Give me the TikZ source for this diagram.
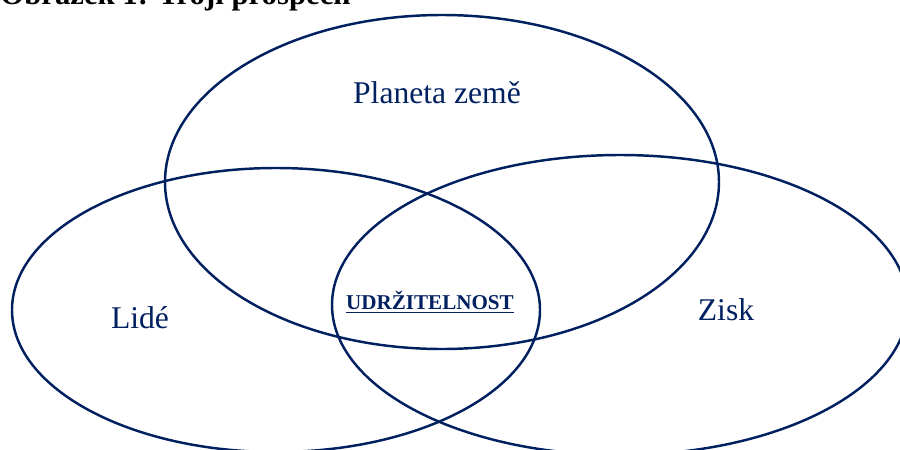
\documentclass[tikz,border=0pt]{standalone}
\usepackage{fontspec}
\setmainfont{Liberation Serif}
\usepackage{tikz}
\usetikzlibrary{positioning}
\definecolor{vennNavy}{HTML}{002060}

\begin{document}
\begin{tikzpicture}[
    x=0.02cm, y=-0.02cm,
    ring/.style={draw=vennNavy, line width=1.4pt},
    lbl/.style={text=vennNavy, font=\fontsize{18}{20}\selectfont, inner sep=0pt},
    core/.style={text=vennNavy, font=\fontsize{12}{14}\selectfont\bfseries, inner sep=0pt}
  ]
    \useasboundingbox (0,0) rectangle (900,450);
    % heading, cut off by the page edge
    \node[anchor=base west, inner sep=0pt, font=\fontsize{17.5}{20}\selectfont\bfseries]
      (title) at (0,4) {Obrázek 1: Trojí prospěch};

    % the three circles
    \draw[ring] (442,182) ellipse [x radius=277, y radius=167];
    \draw[ring] (276,310) ellipse [x radius=264, y radius=142];
    \draw[ring] (620,305) ellipse [x radius=288, y radius=150];

    \node[lbl] (planet) at (437,93)  {Planeta země};
    \node[lbl] (people) at (140,318) {Lidé};
    \node[lbl] (profit) at (726,310) {Zisk};
    \node[core] (sustain) at (430,302) {\underline{UDRŽITELNOST}};
  \end{tikzpicture}
\end{document}
